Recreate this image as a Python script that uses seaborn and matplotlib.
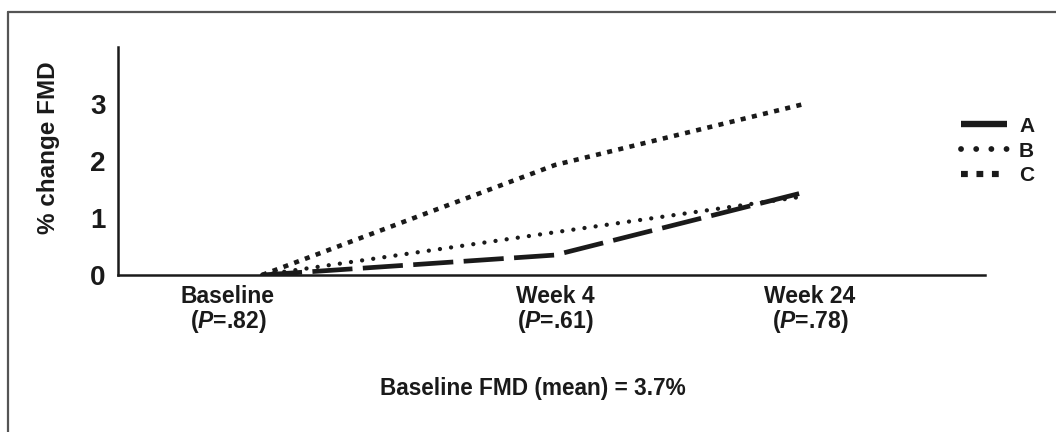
import numpy as np
import pandas as pd
import matplotlib
matplotlib.use("Agg")
import matplotlib.pyplot as plt
import matplotlib.transforms as mtransforms
from matplotlib.lines import Line2D
import seaborn as sns

# ── Data ──────────────────────────────────────────────────────────────────────
visits      = ["Baseline", "Week 4", "Week 24"]
p_values    = [".82", ".61", ".78"]
visit_x     = [0.0, 1.0, 1.85]
group_a     = [0.0, 0.35, 1.45]
group_b     = [0.0, 0.75, 1.38]
group_c     = [0.0, 1.93, 3.0]
groups      = ["A", "B", "C"]
y_ticks     = [0, 1, 2, 3, 4]
y_ticklabel = ["0", "1", "2", "3", ""]

df = pd.DataFrame({
    "x": visit_x * 3,
    "y": group_a + group_b + group_c,
    "group": np.repeat(groups, len(visit_x)),
})

# ── Style ─────────────────────────────────────────────────────────────────────
sns.set_style("white")
plt.rcParams["font.family"] = ["Liberation Sans", "DejaVu Sans"]
plt.rcParams["mathtext.fontset"] = "custom"
plt.rcParams["mathtext.it"] = "Liberation Sans:italic:bold"
plt.rcParams["mathtext.rm"] = "Liberation Sans:bold"

INK = "#1a1a1a"
styles = {
    "A": dict(lw=3.4, dashes=(8.5, 2.2), dash_capstyle="butt"),
    "B": dict(lw=3.1, dashes=(0.01, 2.6), dash_capstyle="round"),
    "C": dict(lw=3.3, dashes=(1.1, 1.4), dash_capstyle="butt"),
}

fig = plt.figure(figsize=(10.56, 4.32), dpi=100)
ax = fig.add_axes([118 / 1056, 1 - 275 / 432, 867 / 1056, 228 / 432])

for g in groups:
    sub = df[df["group"] == g]
    st = styles[g]
    sns.lineplot(data=sub, x="x", y="y", ax=ax, color=INK, lw=st["lw"],
                 dashes=False, legend=False)
    line = ax.lines[-1]
    line.set_dashes(st["dashes"])
    line.set_dash_capstyle(st["dash_capstyle"])

ax.set_xlim(-(262 - 118) / 293, (985 - 262) / 293)
ax.set_ylim(0, 4)

for s in ["top", "right"]:
    ax.spines[s].set_visible(False)
for s in ["left", "bottom"]:
    ax.spines[s].set_linewidth(1.8)
    ax.spines[s].set_color(INK)

ax.set_yticks(y_ticks)
ax.set_yticklabels(y_ticklabel, fontsize=20, fontweight="bold", color=INK)
ax.tick_params(axis="y", direction="out", length=6, width=1.8, color=INK, pad=3)

ax.set_xticks(visit_x)
ax.set_xticklabels([f"{v}\n($\\it{{P}}$={p})" for v, p in zip(visits, p_values)],
                   fontsize=16.5, fontweight="bold", color=INK, linespacing=1.0)
ax.tick_params(axis="x", length=0, pad=7)
# labels sit slightly off their points in the original
shifts = [-34, 0, 6]
for lbl, dx in zip(ax.get_xticklabels(), shifts):
    lbl.set_transform(lbl.get_transform() + mtransforms.ScaledTranslation(dx / 100, 0, fig.dpi_scale_trans))

ax.set_xlabel("")
ax.set_ylabel("% change FMD", fontsize=17.5, fontweight="bold", color=INK)
ax.yaxis.set_label_coords(-58 / 867, 127 / 228)

fig.text(533 / 1056, 1 - 388 / 432, "Baseline FMD (mean) = 3.7%",
         ha="center", va="center", fontsize=16.3, fontweight="bold", color=INK)

# ── Legend ────────────────────────────────────────────────────────────────────
handles = []
for g in groups:
    st = styles[g]
    h = Line2D([], [], color=INK, lw=st["lw"] * 1.35, dashes=st["dashes"],
               dash_capstyle=st["dash_capstyle"])
    handles.append(h)
leg = fig.legend(handles, groups, loc="upper left",
                 bbox_to_anchor=(942 / 1056, 1 - 98 / 432), frameon=False,
                 handlelength=2.2, handletextpad=0.6, labelspacing=0.28,
                 prop={"size": 15, "weight": "bold"})
for t in leg.get_texts():
    t.set_color(INK)

# ── Outer frame (top + left edges only) ──────────────────────────────────────
fig.add_artist(Line2D([8 / 1056, 1.0], [1 - 12 / 432] * 2, color="#555555", lw=1.6,
                      transform=fig.transFigure))
fig.add_artist(Line2D([8 / 1056] * 2, [0, 1 - 12 / 432], color="#555555", lw=1.6,
                      transform=fig.transFigure))

fig.savefig("out.png", dpi=100, facecolor="white")
